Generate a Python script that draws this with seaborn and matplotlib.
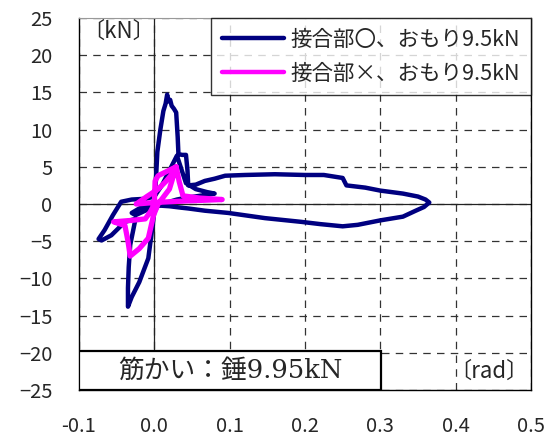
import matplotlib
matplotlib.use("Agg")
import matplotlib.pyplot as plt
import seaborn as sns
import numpy as np
from matplotlib.patches import Rectangle

# --- data ---
blue_x = [0.000, 0.002, 0.004, 0.008, 0.012, 0.015, 0.017, 0.019, 0.021, 0.023, 0.026, 0.029, 0.031, 0.032,
          0.037, 0.042, 0.044, 0.045, 0.055, 0.067, 0.080, 0.094, 0.120, 0.160, 0.200, 0.225, 0.250, 0.255,
          0.280, 0.300, 0.330, 0.350, 0.360, 0.365, 0.358, 0.347, 0.330, 0.300, 0.270, 0.250, 0.220, 0.195,
          0.147, 0.098, 0.067, 0.045, 0.036, 0.020, 0.005, 0.000, -0.004, -0.008, -0.020, -0.030, -0.035,
          -0.035, -0.034, -0.032, -0.028, -0.025, -0.039, -0.057, -0.070, -0.074, -0.066, -0.055, -0.044,
          -0.030, -0.012, 0.000, 0.010, 0.020, 0.030, 0.042, 0.055, 0.070, 0.080, 0.060, 0.040, 0.030,
          0.020, 0.005, -0.010, -0.025, -0.030, -0.020, -0.010, 0.000]
blue_y = [0.0, 3.0, 7.0, 10.0, 12.5, 13.5, 14.7, 13.8, 14.0, 13.2, 12.8, 12.3, 9.0, 6.7,
          6.6, 6.6, 4.5, 2.5, 2.6, 3.1, 3.4, 3.8, 3.9, 4.0, 3.9, 3.9, 3.5, 2.5,
          2.2, 1.8, 1.4, 1.0, 0.6, 0.2, -0.4, -0.9, -1.7, -2.2, -2.8, -3.0, -2.7, -2.4,
          -1.9, -1.2, -0.9, -0.6, -0.5, -0.3, -0.2, -1.0, -4.2, -7.3, -10.5, -12.5, -13.8,
          -11.3, -8.5, -5.5, -3.5, -2.0, -2.4, -4.2, -4.9, -4.7, -3.5, -1.5, 0.3,
          0.6, 0.7, 1.0, 2.5, 4.5, 6.5, 2.8, 2.0, 1.6, 1.4, 1.1, 0.8, 0.6,
          0.3, -0.2, -0.8, -1.5, -1.2, -0.6, -0.2, 0.0]

mag_x = [0.000, 0.001, 0.005, 0.015, 0.025, 0.029, 0.033, 0.038, 0.060, 0.090, 0.040, 0.000, -0.024,
         -0.010, 0.005, 0.015, 0.025, 0.029, 0.020, 0.005, -0.001, -0.008, -0.020, -0.032, -0.035,
         -0.039, -0.054, -0.030, -0.012, -0.005, 0.000]
mag_y = [0.0, 3.1, 3.8, 4.3, 4.8, 5.0, 3.0, 1.1, 0.8, 0.6, 0.4, 0.2, 0.0,
         1.0, 2.0, 3.0, 4.2, 5.0, 2.0, 0.0, -1.5, -4.6, -6.0, -7.0, -5.0,
         -2.9, -2.4, -2.2, -2.0, -1.0, 0.0]

series_labels = ["接合部〇、おもり9.5kN", "接合部×、おもり9.5kN"]
x_ticks = [-0.1, 0.0, 0.1, 0.2, 0.3, 0.4, 0.5]
x_tick_labels = ["-0.1", "0.0", "0.1", "0.2", "0.3", "0.4", "0.5"]
y_ticks = [25, 20, 15, 10, 5, 0, -5, -10, -15, -20, -25]
y_tick_labels = ["25", "20", "15", "10", "5", "0", "\u22125", "\u221210", "\u221215", "\u221220", "\u221225"]
note_text = "筋かい：錘9.95kN"

sns.set_style("white")
plt.rcParams['font.family'] = ['Noto Sans CJK JP', 'DejaVu Sans']

fig = plt.figure(figsize=(5.44, 4.43), dpi=100)
ax = fig.add_axes([79/544, 1-390/443, (531-79)/544, (390-18)/443])

sns.lineplot(x=blue_x, y=blue_y, sort=False, estimator=None, color="#000080", lw=3.2,
             label=series_labels[0], ax=ax, zorder=3, solid_joinstyle="round")
sns.lineplot(x=mag_x, y=mag_y, sort=False, estimator=None, color="#FF00FF", lw=3.8,
             label=series_labels[1], ax=ax, zorder=4, solid_joinstyle="round")

ax.set_xlim(-0.1, 0.5)
ax.set_ylim(-25, 25)
ax.set_xticks(x_ticks)
ax.set_xticklabels(x_tick_labels)
ax.set_yticks(y_ticks)
ax.set_yticklabels(y_tick_labels)
ax.tick_params(axis="y", length=0, pad=19, labelsize=14.5)
ax.tick_params(axis="x", length=0, pad=19, labelsize=14.5)
ax.set_xlabel("")
ax.set_ylabel("")

ax.grid(True, color="#333333", ls=(0, (6, 5)), lw=0.9, zorder=1)
ax.axhline(0, color="#222222", lw=0.9, zorder=2)
ax.axvline(0, color="#222222", lw=0.9, zorder=2)

for s in ["left", "right", "bottom"]:
    ax.spines[s].set_color("black")
    ax.spines[s].set_linewidth(1.0)
ax.spines["top"].set_color("#999999")
ax.spines["top"].set_linewidth(0.8)

leg = ax.legend(loc="upper right", bbox_to_anchor=(1.0, 1.0), borderaxespad=0,
                frameon=True, fancybox=False, fontsize=15.5, handlelength=2.9,
                labelspacing=0.55, borderpad=0.5, handletextpad=0.3)
leg.get_frame().set_edgecolor("black")
leg.get_frame().set_linewidth(1.0)
for h in leg.get_lines():
    h.set_linewidth(3.2)

ax.text(0.006, 0.995, "〔kN〕", transform=ax.transAxes, ha="left", va="top", fontsize=16, zorder=6)
ax.text(0.995, 0.018, "〔rad〕", transform=ax.transAxes, ha="right", va="bottom", fontsize=16, zorder=6)

rect = Rectangle((0.0, 0.0), (381-79)/452, (390-351)/372, transform=ax.transAxes,
                 facecolor="white", edgecolor="black", lw=1.6, zorder=5)
ax.add_patch(rect)
ax.text((381-79)/452/2, 0.052, note_text, transform=ax.transAxes, ha="center", va="center",
        fontsize=18.5, family=['DejaVu Serif', 'Noto Sans CJK JP'], zorder=6)

fig.savefig("out.png", dpi=100)
